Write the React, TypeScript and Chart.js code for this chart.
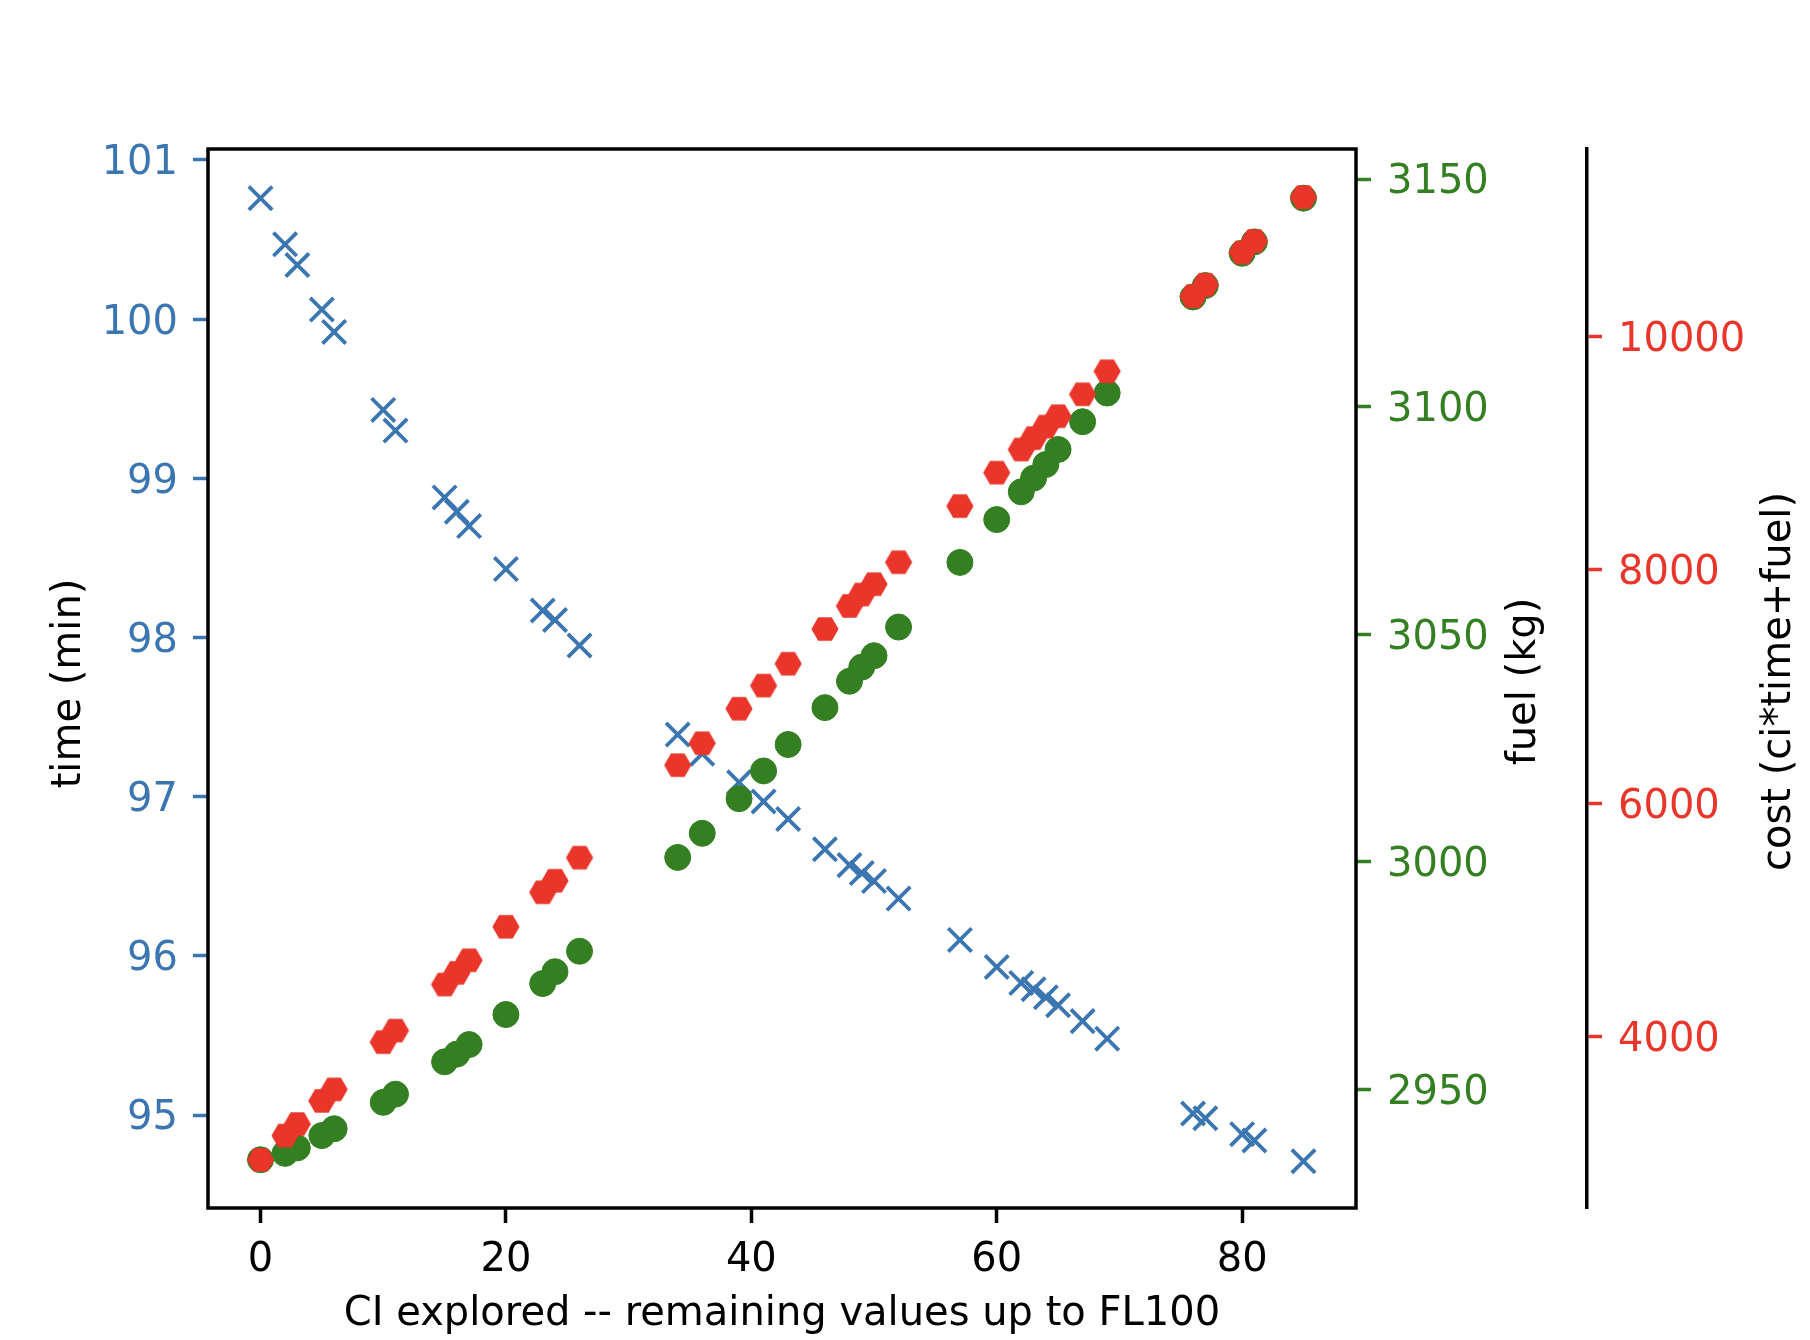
import { useEffect, useRef } from 'react';
import { Chart, registerables } from 'chart.js';

Chart.register(...registerables);

// ---- data ----
const CI = [0, 2, 3, 5, 6, 10, 11, 15, 16, 17, 20, 23, 24, 26, 34, 36, 39, 41, 43, 46, 48, 49, 50, 52, 57, 60, 62, 63, 64, 65, 67, 69, 76, 77, 80, 81, 85];
const TIME = [100.76, 100.47, 100.34, 100.06, 99.92, 99.43, 99.30, 98.88, 98.79, 98.70, 98.43, 98.17, 98.11, 97.95, 97.39, 97.27, 97.09, 96.97, 96.86, 96.67, 96.57, 96.52, 96.47, 96.36, 96.10, 95.93, 95.83, 95.79, 95.74, 95.69, 95.59, 95.48, 95.01, 94.98, 94.88, 94.84, 94.71];
const FUEL = [2934.6, 2936.0, 2937.2, 2939.9, 2941.4, 2947.2, 2949.0, 2956.1, 2957.8, 2959.9, 2966.5, 2973.3, 2975.9, 2980.4, 3001.0, 3006.3, 3013.9, 3020.0, 3025.8, 3033.9, 3039.7, 3042.8, 3045.3, 3051.6, 3065.8, 3075.2, 3081.3, 3084.3, 3087.3, 3090.6, 3096.7, 3103.0, 3124.1, 3126.6, 3133.7, 3136.2, 3145.8];
const COST = [2942, 3150, 3249, 3447, 3546, 3951, 4050, 4445, 4545, 4653, 4940, 5236, 5335, 5533, 6326, 6514, 6810, 7008, 7196, 7493, 7691, 7789, 7878, 8066, 8547, 8834, 9032, 9130, 9229, 9318, 9506, 9703, 10346, 10445, 10722, 10820, 11196];

const X_TICKS = [0, 20, 40, 60, 80];
const TIME_TICKS = [95, 96, 97, 98, 99, 100, 101];
const FUEL_TICKS = [2950, 3000, 3050, 3100, 3150];
const COST_TICKS = [4000, 6000, 8000, 10000];

const X_TITLE = 'CI explored -- remaining values up to FL100';
const TIME_TITLE = 'time (min)';
const FUEL_TITLE = 'fuel (kg)';
const COST_TITLE = 'cost (ci*time+fuel)';

const BLUE = '#3b76b1';
const GREEN = '#337f22';
const RED = '#e9352a';
const FONT = '"DejaVu Sans", "Liberation Sans", sans-serif';
const FS = 40;

function makeHexagon(color: string, r: number): HTMLCanvasElement {
  const size = Math.ceil(r * 2 + 4);
  const c = document.createElement('canvas');
  c.width = size;
  c.height = size;
  const g = c.getContext('2d')!;
  g.fillStyle = color;
  g.beginPath();
  for (let i = 0; i < 6; i++) {
    const a = (i * Math.PI) / 3;
    const px = size / 2 + r * Math.cos(a);
    const py = size / 2 + r * Math.sin(a);
    if (i === 0) g.moveTo(px, py);
    else g.lineTo(px, py);
  }
  g.closePath();
  g.fill();
  return c;
}

const tickCfg = (color: string, padding: number, labelOffset: number) => ({
  color,
  font: { family: FONT, size: FS },
  padding,
  labelOffset,
  autoSkip: false,
  maxRotation: 0,
  callback: (v: any) => String(v),
});

const gridCfg = (color: string) => ({
  display: true,
  drawOnChartArea: false,
  drawTicks: true,
  tickLength: 15,
  tickWidth: 3.5,
  tickColor: color,
});

const decorPlugin = {
  id: 'decor',
  afterDraw(chart: any) {
    const { ctx, chartArea } = chart;
    const { left, right, top, bottom } = chartArea;
    const cy = (top + bottom) / 2;
    ctx.save();
    // axes frame
    ctx.strokeStyle = '#000';
    ctx.lineWidth = 3.5;
    ctx.strokeRect(left, top, right - left, bottom - top);
    // titles
    ctx.fillStyle = '#000';
    ctx.font = `${FS}px ${FONT}`;
    ctx.textAlign = 'center';
    ctx.textBaseline = 'alphabetic';
    ctx.fillText(X_TITLE, (left + right) / 2, bottom + 117);
    const rot = (text: string, x: number, y: number) => {
      ctx.save();
      ctx.translate(x, y);
      ctx.rotate(-Math.PI / 2);
      ctx.fillText(text, 0, 0);
      ctx.restore();
    };
    const y2 = chart.scales.y2;
    rot(TIME_TITLE, left - 128, cy + 5);
    rot(FUEL_TITLE, right + 179, cy + 3);
    rot(COST_TITLE, y2.left + 203, cy + 3);
    ctx.restore();
  },
};

export default function App() {
  const ref = useRef<HTMLCanvasElement>(null);

  useEffect(() => {
    if (!ref.current) return;
    const hex = makeHexagon(RED, 13.6);
    const timePts = CI.map((x, i) => ({ x, y: TIME[i] }));
    const fuelPts = CI.map((x, i) => ({ x, y: FUEL[i] }));
    const costPts = CI.map((x, i) => ({ x, y: COST[i] }));

    const chart = new Chart(ref.current, {
      type: 'scatter',
      data: {
        datasets: [
          {
            label: 'time',
            data: timePts,
            yAxisID: 'y',
            order: 3,
            pointStyle: 'crossRot',
            pointRadius: 16.5,
            pointBorderColor: BLUE,
            pointBackgroundColor: BLUE,
            pointBorderWidth: 3.8,
            borderColor: BLUE,
            backgroundColor: BLUE,
          },
          {
            label: 'fuel',
            data: fuelPts,
            yAxisID: 'y1',
            order: 2,
            pointStyle: 'circle',
            pointRadius: 13,
            pointBorderColor: GREEN,
            pointBackgroundColor: GREEN,
            pointBorderWidth: 1,
            borderColor: GREEN,
            backgroundColor: GREEN,
          },
          {
            label: 'cost',
            data: costPts,
            yAxisID: 'y2',
            order: 1,
            pointStyle: hex as any,
            pointRadius: 13.6,
            borderColor: RED,
            backgroundColor: RED,
          },
        ],
      },
      options: {
        responsive: false,
        animation: false,
        devicePixelRatio: 1,
        events: [],
        layout: { padding: { top: 149, left: 0, right: 0, bottom: 0 } },
        plugins: {
          legend: { display: false },
          tooltip: { enabled: false },
          title: { display: false },
        },
        scales: {
          x: {
            type: 'linear',
            position: 'bottom',
            min: -4.28,
            max: 89.28,
            afterBuildTicks: (s: any) => {
              s.ticks = X_TICKS.map((v) => ({ value: v }));
            },
            afterFit: (s: any) => {
              s.height = 132;
            },
            grid: gridCfg('#000'),
            border: { display: false },
            ticks: tickCfg('#000', 14, 0),
          },
          y: {
            type: 'linear',
            position: 'left',
            min: 94.416,
            max: 101.069,
            afterBuildTicks: (s: any) => {
              s.ticks = TIME_TICKS.map((v) => ({ value: v }));
            },
            afterFit: (s: any) => {
              s.width = 208;
            },
            grid: gridCfg(BLUE),
            border: { display: false },
            ticks: tickCfg(BLUE, 15, 4),
          },
          y1: {
            type: 'linear',
            position: 'right',
            weight: 0,
            min: 2924.0,
            max: 3156.6,
            afterBuildTicks: (s: any) => {
              s.ticks = FUEL_TICKS.map((v) => ({ value: v }));
            },
            afterFit: (s: any) => {
              s.width = 231;
            },
            grid: gridCfg(GREEN),
            border: { display: false },
            ticks: tickCfg(GREEN, 16, 4),
          },
          y2: {
            type: 'linear',
            position: 'right',
            weight: 1,
            min: 2529,
            max: 11609,
            afterBuildTicks: (s: any) => {
              s.ticks = COST_TICKS.map((v) => ({ value: v }));
            },
            afterFit: (s: any) => {
              s.width = 223;
            },
            grid: gridCfg(RED),
            border: { display: true, color: '#000', width: 3.5 },
            ticks: tickCfg(RED, 16, 4),
          },
        },
      } as any,
      plugins: [decorPlugin],
    });
    return () => chart.destroy();
  }, []);

  return (
    <div style={{ position: 'absolute', left: 0, top: 0, width: 1810, height: 1340, background: '#fff' }}>
      <canvas ref={ref} width={1810} height={1340} style={{ width: 1810, height: 1340, display: 'block' }} />
    </div>
  );
}
